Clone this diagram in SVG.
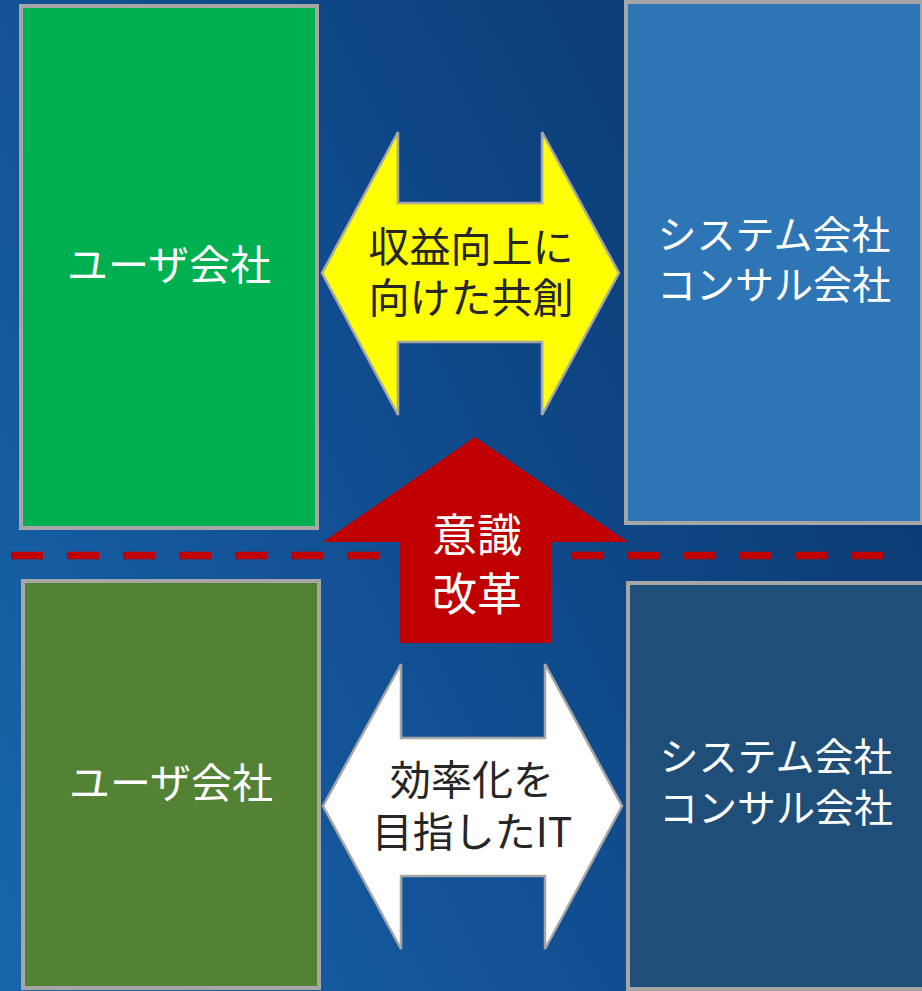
<svg xmlns="http://www.w3.org/2000/svg" width="922" height="991" viewBox="0 0 922 991">
<defs>
<linearGradient id="bg" x1="0" y1="1" x2="1" y2="0.45">
<stop offset="0" stop-color="#1866ab"/>
<stop offset="0.5" stop-color="#114f92"/>
<stop offset="1" stop-color="#0a3a72"/>
</linearGradient>
<style>
.box{stroke:#a6a6a6;stroke-width:4}
.arr{stroke:#a6a6a6;stroke-width:2.5}
text{font-family:"Noto Sans CJK JP","Noto Sans",sans-serif;text-anchor:middle}
.w{fill:#ffffff;font-size:39px}
.u{fill:#ffffff;font-size:41px}
.d{fill:#262626;font-size:41px}
.r{fill:#ffffff;font-size:45px}
</style>
</defs>
<rect x="0" y="0" width="922" height="991" fill="url(#bg)"/>
<g id="connectors">
<line x1="11" y1="555.5" x2="883" y2="555.5" stroke="#c00000" stroke-width="7.5" stroke-dasharray="32 24"/>
</g>
<g id="user-top">
<rect class="box" x="21" y="6" width="296" height="522" fill="#00b050"/>
<text class="u" x="169" y="280">ユーザ会社</text>
</g>
<g id="system-top">
<rect class="box" x="626" y="2" width="296" height="521" fill="#2e75b6"/>
<text class="w" x="774" y="249">システム会社</text>
<text class="w" x="774" y="299">コンサル会社</text>
</g>
<g id="user-bottom">
<rect class="box" x="23" y="581" width="296" height="407" fill="#548235"/>
<text class="u" x="171" y="798">ユーザ会社</text>
</g>
<g id="system-bottom">
<rect class="box" x="628" y="583" width="296" height="406" fill="#1f4e79"/>
<text class="w" x="776" y="771">システム会社</text>
<text class="w" x="776" y="822">コンサル会社</text>
</g>
<g id="kyoso">
<polygon class="arr" fill="#ffff00" points="322,273 398,132 398,203 542,203 542,132 619,273 542,415 542,342 398,342 398,415"/>
<text class="d" x="471" y="262">収益向上に</text>
<text class="d" x="471" y="313">向けた共創</text>
</g>
<g id="kaikaku">
<polygon fill="#c00000" points="475,437 628,542 551,542 551,643 400,643 400,542 323,542"/>
<text class="r" x="477" y="552">意識</text>
<text class="r" x="477" y="611">改革</text>
</g>
<g id="kouritsu">
<polygon class="arr" fill="#ffffff" points="323,806 401,664 401,738 545,738 545,664 622,806 545,949 545,876 401,876 401,949"/>
<text class="d" x="472" y="795">効率化を</text>
<text class="d" x="472" y="847">目指したIT</text>
</g>
</svg>
